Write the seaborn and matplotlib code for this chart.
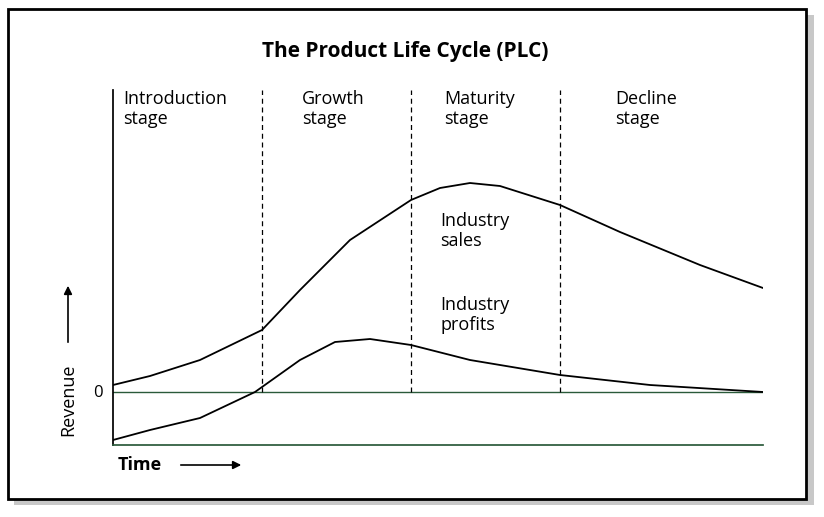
import matplotlib
matplotlib.use("Agg")
import matplotlib.pyplot as plt
import seaborn as sns
from matplotlib.patches import Rectangle, FancyArrowPatch

sns.set_theme(style="white")
plt.rcParams['font.family'] = ['Open Sans', 'DejaVu Sans']
plt.rcParams['text.color'] = 'black'

# data (x in time units, y revenue units; 0 = zero line)
sales_t = [113,150,200,262,300,350,411,440,470,500,560,620,700,763]
sales_v = [7,16,32,62,102,152,192,204,209,206,187,160,127,104]
prof_t = [113,150,200,255,300,335,370,411,470,560,650,763]
prof_v = [-48,-38,-26,0,32,50,53,47,32,17,7,0]
stage_bounds = [262,411,560]
stage_labels = ["Introduction\nstage","Growth\nstage","Maturity\nstage","Decline\nstage"]
stage_x = [123,302,444,615]

W, H = 824, 517
fig = plt.figure(figsize=(W/100, H/100), dpi=100)
def px(x, y): return (x/W, 1-y/H)

# frame with shadow
fig.patches.append(Rectangle(px(14, 505), 800/W, 490/H, transform=fig.transFigure,
                             facecolor="#c8c8c8", edgecolor="none", zorder=-2))
fig.patches.append(Rectangle(px(8, 499), 798/W, 490/H, transform=fig.transFigure,
                             facecolor="white", edgecolor="black", lw=2, zorder=-1))

ax = fig.add_axes([113/W, (H-445)/H, 650/W, 355/H])
ax.set_zorder(2)
ax.set_facecolor("none")
ax.set_xlim(113, 763); ax.set_ylim(-53, 302)
for s in ["top", "right"]: ax.spines[s].set_visible(False)
ax.spines["bottom"].set_color("#2a5a3a"); ax.spines["left"].set_color("black")
ax.set_xticks([]); ax.set_yticks([])
ax.axhline(0, color="#2a5a3a", lw=1)
for b in stage_bounds:
    ax.plot([b, b], [0, 302], ls=(0, (4, 3)), color="black", lw=0.9)

sns.lineplot(x=sales_t, y=sales_v, ax=ax, color="black", lw=1.3)
sns.lineplot(x=prof_t, y=prof_v, ax=ax, color="black", lw=1.3)

for x, l in zip(stage_x, stage_labels):
    ax.text(x, 302, l, va="top", ha="left", fontsize=13, linespacing=1.15)
ax.text(440, 180, "Industry\nsales", va="top", fontsize=13, linespacing=1.15)
ax.text(440, 96, "Industry\nprofits", va="top", fontsize=13, linespacing=1.15)

fig.text(*px(405, 52), "The Product Life Cycle (PLC)", ha="center", va="center",
         fontsize=15, fontweight="bold")
fig.text(*px(98, 393), "0", ha="center", va="center", fontsize=12)
fig.text(*px(68, 400), "Revenue", ha="center", va="center", rotation=90, fontsize=13)
fig.text(*px(140, 465), "Time", ha="center", va="center", fontsize=13, fontweight="bold")
fig.patches.append(FancyArrowPatch(px(68, 345), px(68, 283), transform=fig.transFigure,
                                   arrowstyle="-|>", mutation_scale=12, color="black", lw=1.2))
fig.patches.append(FancyArrowPatch(px(178, 465), px(244, 465), transform=fig.transFigure,
                                   arrowstyle="-|>", mutation_scale=12, color="black", lw=1.2))

fig.savefig("out.png", dpi=100)
